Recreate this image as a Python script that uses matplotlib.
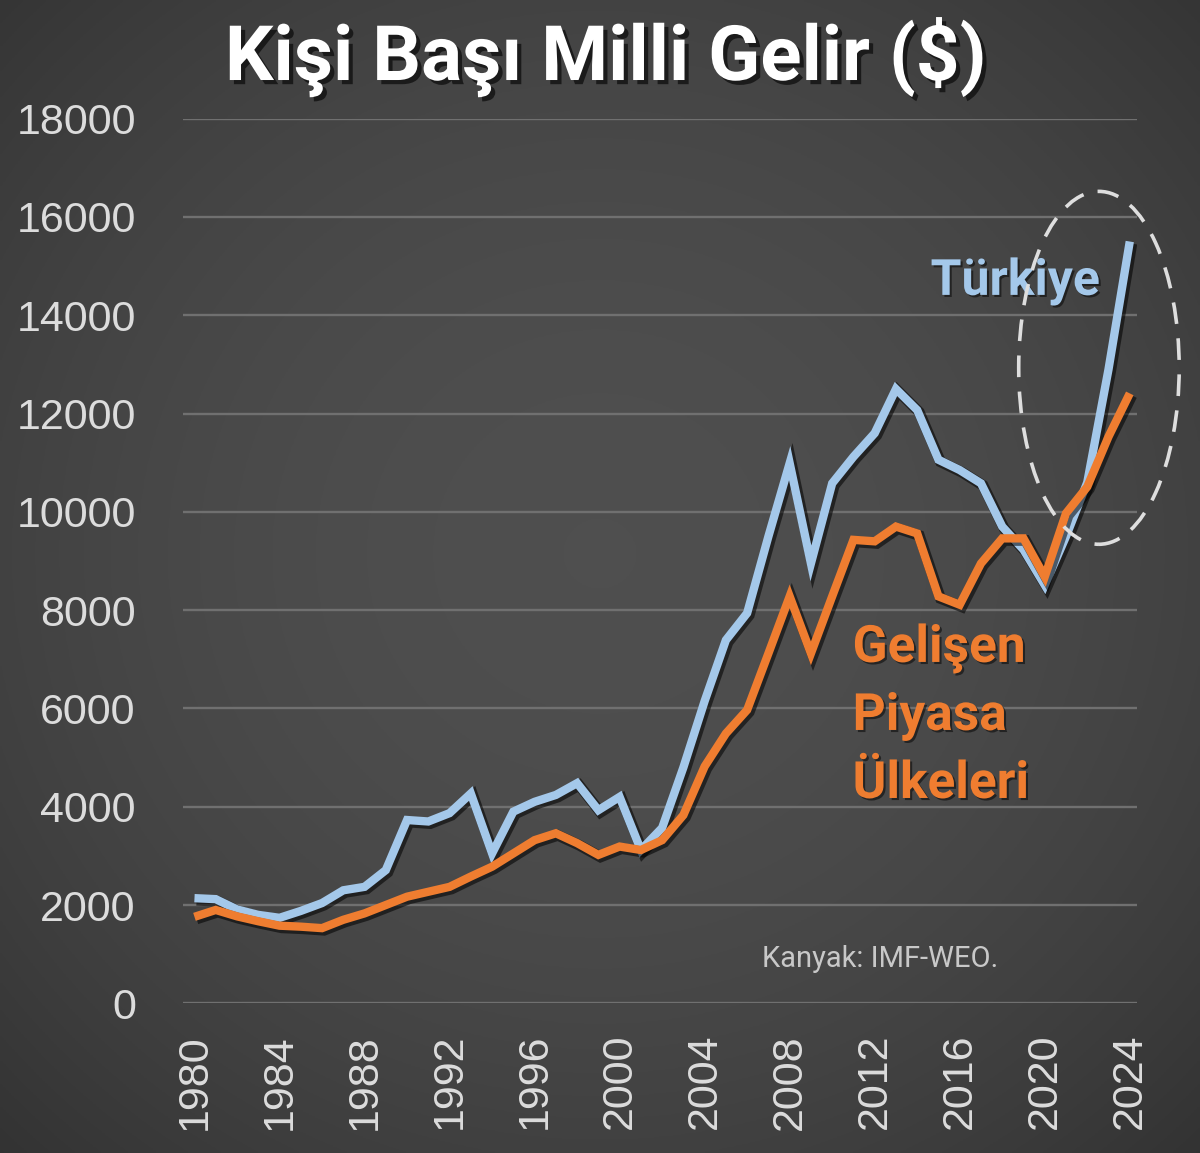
import numpy as np
import matplotlib
matplotlib.use("Agg")
import matplotlib.pyplot as plt
import matplotlib.patheffects as pe
from matplotlib.patches import Ellipse

# ---------------- data ----------------
years = list(range(1980, 2025))
turkiye = [2140, 2120, 1910, 1800, 1740, 1880, 2040, 2300, 2370, 2710,
           3730, 3700, 3870, 4270, 3050, 3900, 4100, 4240, 4480, 3930,
           4200, 3120, 3570, 4800, 6150, 7390, 7940, 9500, 10990, 8950,
           10580, 11120, 11600, 12500, 12070, 11060, 10850, 10580, 9700, 9230,
           8510, 9500, 10600, 12900, 15500]
gelisen = [1760, 1900, 1770, 1670, 1580, 1560, 1530, 1700, 1830, 2000,
           2170, 2270, 2370, 2580, 2780, 3050, 3320, 3460, 3260, 3020,
           3190, 3120, 3320, 3830, 4820, 5490, 5970, 7120, 8280, 7120,
           8280, 9430, 9400, 9700, 9560, 8280, 8110, 8950, 9460, 9460,
           8680, 9970, 10510, 11530, 12410]
xticks = list(range(1980, 2025, 4))
yticks = list(range(0, 18001, 2000))
title = "Kişi Başı Milli Gelir ($)"
label_tr = "Türkiye"
label_gp = ["Gelişen", "Piyasa", "Ülkeleri"]
source = "Kanyak: IMF-WEO."

# ---------------- figure ----------------
fig = plt.figure(figsize=(12, 11.53), dpi=100)
fig.patch.set_facecolor("#3a3a3a")

# radial gradient background
bg = fig.add_axes([0, 0, 1, 1], zorder=-10)
bg.axis("off")
yy, xx = np.mgrid[0:1:400j, 0:1:400j]
r = np.sqrt(((xx - 0.5) / 0.72) ** 2 + ((yy - 0.52) / 0.72) ** 2)
val = 0.31 - 0.11 * r ** 2
val = np.clip(val, 0.17, 0.32)
img = np.dstack([val, val, val])
bg.imshow(img, extent=[0, 1, 0, 1], aspect="auto", origin="lower")
bg.set_xlim(0, 1)
bg.set_ylim(0, 1)

ax = fig.add_axes([0.1525, 0.1298, 0.795, 0.7673], zorder=1)
ax.patch.set_alpha(0)
for s in ax.spines.values():
    s.set_visible(False)

ax.set_xlim(1979.46, 2024.34)
ax.set_ylim(0, 18000)
ax.set_yticks(yticks)
ax.set_xticks(xticks)
ax.set_yticklabels([str(v) for v in yticks])
ax.set_xticklabels([str(v) for v in xticks], rotation=90)
tick_font = dict(family=["Liberation Sans", "DejaVu Sans"], size=31, color="#dcdcdc")
for lab in ax.get_yticklabels() + ax.get_xticklabels():
    lab.set_fontfamily(tick_font["family"])
    lab.set_fontsize(tick_font["size"])
    lab.set_color(tick_font["color"])
ax.tick_params(axis="y", length=0, pad=34)
ax.tick_params(axis="x", length=0, pad=22)
ax.yaxis.grid(True, color="#707070", lw=1.7)
ax.xaxis.grid(False)
ax.set_axisbelow(True)

shadow = [pe.SimpleLineShadow(offset=(1.5, -1.5), shadow_color="black", alpha=0.55, linewidth=7.8),
          pe.Normal()]
ax.plot(years, turkiye, color="#a4c8ea", lw=6.0, solid_joinstyle="miter",
        solid_capstyle="butt", path_effects=shadow, zorder=3)
ax.plot(years, gelisen, color="#ef7d30", lw=6.0, solid_joinstyle="miter",
        solid_capstyle="butt", path_effects=shadow, zorder=4)

txt_shadow = [pe.SimplePatchShadow(offset=(1.5, -1.5), shadow_rgbFace="black", alpha=0.5), pe.Normal()]
lab_font = ["Roboto", "DejaVu Sans"]
ax.text(2014.63, 14414, label_tr, color="#a4c8ea", fontsize=36, fontweight="bold",
        family=lab_font, ha="left", va="baseline", path_effects=txt_shadow, zorder=5)
for txt, yv in zip(label_gp, [6946, 5562, 4178]):
    ax.text(2010.96, yv, txt, color="#ef7d30", fontsize=37, fontweight="bold",
            family=lab_font, ha="left", va="baseline", path_effects=txt_shadow, zorder=5)

ax.text(2006.72, 739, source, color="#c8c8c8", fontsize=21, family=lab_font,
        ha="left", va="baseline", zorder=5)

ell = Ellipse((2022.55, 12930), width=7.55, height=7180, fill=False,
              edgecolor="#dedede", lw=2.6, linestyle=(0, (6, 4)), zorder=6,
              clip_on=False)
ax.add_patch(ell)

fig.text(0.505, 0.9306, title, color="white", fontsize=55, fontweight="bold",
         family=lab_font, ha="center", va="baseline",
         path_effects=[pe.SimplePatchShadow(offset=(3, -3), shadow_rgbFace="black", alpha=0.6), pe.Normal()])

fig.savefig("out.png", dpi=100, facecolor=fig.get_facecolor())
